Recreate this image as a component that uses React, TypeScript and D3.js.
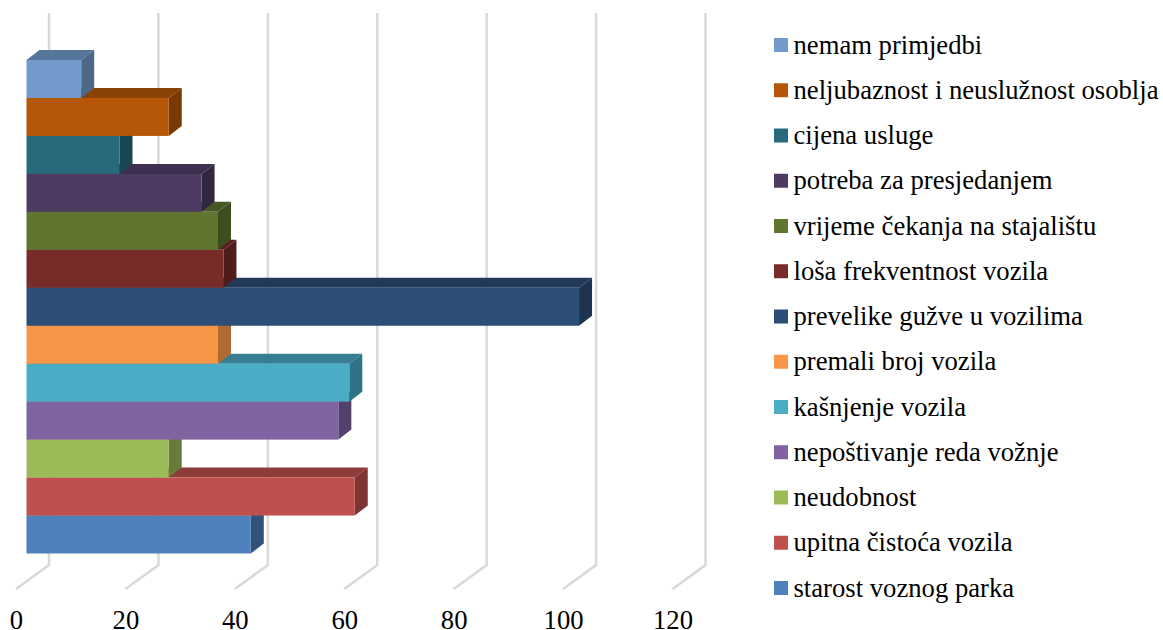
import React from "react";
import * as d3 from "d3";

const categories = ["starost voznog parka","upitna čistoća vozila","neudobnost","nepoštivanje reda vožnje","kašnjenje vozila","premali broj vozila","prevelike gužve u vozilima","loša frekventnost vozila","vrijeme čekanja na stajalištu","potreba za presjedanjem","cijena usluge","neljubaznost i neuslužnost osoblja","nemam primjedbi"];
const values = [41,60,26,57,59,35,101,36,35,32,17,26,10];
const colors = ["#4f81bd","#c0504d","#9bbb59","#8064a2","#4bacc6","#f79646","#2c4d75","#772c2a","#5f7530","#4d3b62","#276a7c","#b65708","#729aca"];
const sideColors = ["#325277","#7f3533","#677c3a","#53416c","#2f7387","#b06a32","#1d3350","#4e1d1b","#3f4e20","#322741","#1a4752","#783a05","#4c6788"];
const topColors = ["#3c618e","#8f3b39","#748d42","#604b7a","#387e92","#bb7034","#213a58","#591f1e","#475824","#3e2e50","#1d4f5d","#8a4206","#56759a"];
const ticks = [0,20,40,60,80,100,120];

const SERIF = "'Liberation Serif','Times New Roman',serif";
const depthX = 13, depthY = 10;

export default function App() {
  const x = d3.scaleLinear().domain([0,120]).range([26.5,683]);
  const y = d3.scaleBand<number>().domain(d3.range(values.length).reverse()).range([60,553.5]).paddingInner(0).paddingOuter(0);
  const legendY = d3.scalePoint<number>().domain(d3.range(values.length).reverse()).range([45,588]);
  const floorBack = 565, floorFront = 589;
  return (
    <svg width={1163} height={630} style={{position:"absolute",left:0,top:0,background:"#fff"}}>
      <g fill="none" stroke="#d9d9d9" strokeWidth={2.5}>
        {ticks.map(t => {
          const bx = x(t)+22.5;
          return <path key={t} d={`M${bx},13V${floorBack}L${bx-33},${floorFront}`} />;
        })}
      </g>
      {values.map((v,i) => {
        const x0 = x(0), x1 = x(v), y0 = y(i)!, h = y.bandwidth();
        return (
          <g key={i}>
            <path d={`M${x0},${y0}L${x0+depthX},${y0-depthY}H${x1+depthX}L${x1},${y0}Z`} fill={topColors[i]} />
            <path d={`M${x1},${y0}L${x1+depthX},${y0-depthY}V${y0+h-depthY}L${x1},${y0+h}Z`} fill={sideColors[i]} />
            <rect x={x0} y={y0} width={x1-x0} height={h} fill={colors[i]} />
          </g>
        );
      })}
      <g fontFamily={SERIF} fontSize={26.67} fill="#000" textAnchor="middle">
        {ticks.map(t => <text key={t} x={x(t)-10} y={628.5}>{t}</text>)}
      </g>
      <g fontFamily={SERIF} fontSize={26.67} fill="#000">
        {categories.map((c,i) => {
          const ly = legendY(i)!;
          return (
            <g key={c}>
              <rect x={774} y={ly-7} width={14} height={14} fill={colors[i]} />
              <text x={793.5} y={ly+8.7}>{c}</text>
            </g>
          );
        })}
      </g>
    </svg>
  );
}
